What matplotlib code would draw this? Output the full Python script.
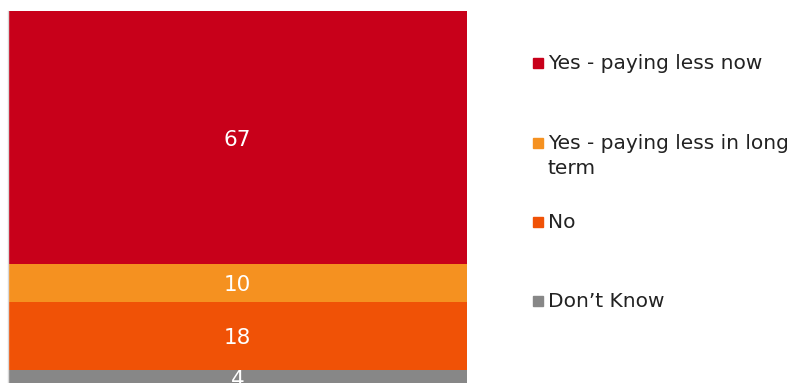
import matplotlib
matplotlib.use("Agg")
import matplotlib.pyplot as plt
from matplotlib.patches import Rectangle

# Survey answers, stacked bottom to top
categories = ["Don\u2019t Know", "No", "Yes - paying less in long\nterm", "Yes - paying less now"]
values = [4, 18, 10, 67]
colors = ["#878787", "#F05206", "#F59120", "#C8001A"]

# Legend order (top to bottom) and vertical centres of the first text line (pixels from top)
legend_order = [3, 2, 1, 0]
legend_y = [63, 143, 222, 301]

W, H = 795, 383
fig = plt.figure(figsize=(W / 100, H / 100), dpi=100)
plt.rcParams["font.family"] = ["DejaVu Sans"]

top_px, bottom_px = 11, 385
ax = fig.add_axes([8 / W, (H - bottom_px) / H, 459 / W, (bottom_px - top_px) / H])

bottom = 0
for v, c in zip(values, colors):
    ax.bar(0, v, bottom=bottom, width=1.0, color=c, edgecolor="none")
    ax.annotate(str(v), (0, bottom + v / 2), xytext=(0, -1.5),
                textcoords="offset points", ha="center", va="center",
                color="white", fontsize=15.5)
    bottom += v

ax.set_xlim(-0.5, 0.5)
ax.set_ylim(0, sum(values))
ax.set_xticks([])
ax.set_yticks([])
for s in ["top", "right", "bottom"]:
    ax.spines[s].set_visible(False)
ax.spines["left"].set_color("#D9D9D9")
ax.spines["left"].set_linewidth(1.0)

# Legend: small squares with labels
sq = 10
for idx, y in zip(legend_order, legend_y):
    fig.patches.append(Rectangle((533 / W, (H - y - sq / 2) / H), sq / W, sq / H,
                                 transform=fig.transFigure, color=colors[idx],
                                 edgecolor="none"))
    fig.text(548 / W, (H - y + 9) / H, categories[idx], ha="left", va="top",
             fontsize=14.5, color="#222222", linespacing=1.4,
             transform=fig.transFigure)

fig.savefig("out.png", dpi=100)
